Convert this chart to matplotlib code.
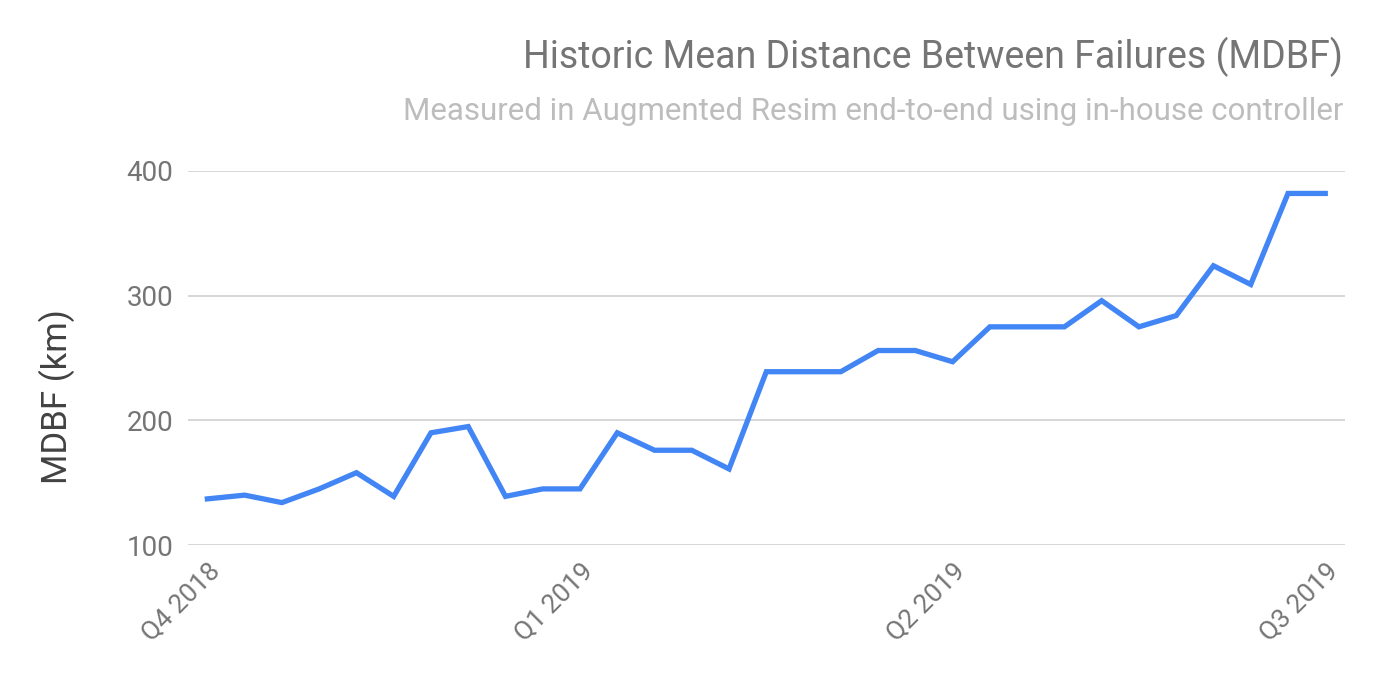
import matplotlib
matplotlib.use("Agg")
import matplotlib.pyplot as plt

plt.rcParams['font.family'] = ['Roboto', 'DejaVu Sans']

mdbf_km = [137, 140, 134, 145, 158, 139, 190, 195, 139, 145,
           145, 190, 176, 176, 161, 239, 239, 239, 256, 256,
           247, 275, 275, 275, 296, 275, 284, 324, 309, 382, 382]
tick_positions = [0, 10, 20, 30]
tick_labels = ["Q4 2018", "Q1 2019", "Q2 2019", "Q3 2019"]
y_ticks = [100, 200, 300, 400]

title = "Historic Mean Distance Between Failures (MDBF)"
subtitle = "Measured in Augmented Resim end-to-end using in-house controller"

fig = plt.figure(figsize=(13.78, 6.78), dpi=100)
W, H = 1378, 678
ax = fig.add_axes([188 / W, 1 - 545 / H, (1345 - 188) / W, (545 - 171) / H])

x = list(range(len(mdbf_km)))
ax.plot(x, mdbf_km, color='#4285F4', linewidth=3.8, solid_joinstyle='miter', zorder=3)

ax.set_xlim(-0.52, 30.53)
ax.set_ylim(100, 400)
ax.set_yticks(y_ticks)
ax.set_yticklabels([str(v) for v in y_ticks], fontsize=20, color='#757575')
ax.set_xticks(tick_positions)
ax.set_xticklabels(tick_labels, fontsize=19, color='#757575', rotation=45,
                   ha='right', rotation_mode='anchor')
ax.tick_params(axis='both', length=0)
ax.tick_params(axis='y', pad=10.5)
ax.tick_params(axis='x', pad=10)
ax.grid(axis='y', color='#d0d0d0', linewidth=1.2)
ax.set_axisbelow(True)
for s in ax.spines.values():
    s.set_visible(False)

fig.text(57 / W, 1 - 397 / H, "MDBF (km)", rotation=90, ha='center', va='center',
         fontsize=25, color='#424242')

fig.text(1343 / W, 1 - 57 / H, title, ha='right', va='center', fontsize=27, color='#757575')
fig.text(1343 / W, 1 - 112 / H, subtitle, ha='right', va='center', fontsize=22.5, color='#bdbdbd')

fig.savefig('out.png', dpi=100)
